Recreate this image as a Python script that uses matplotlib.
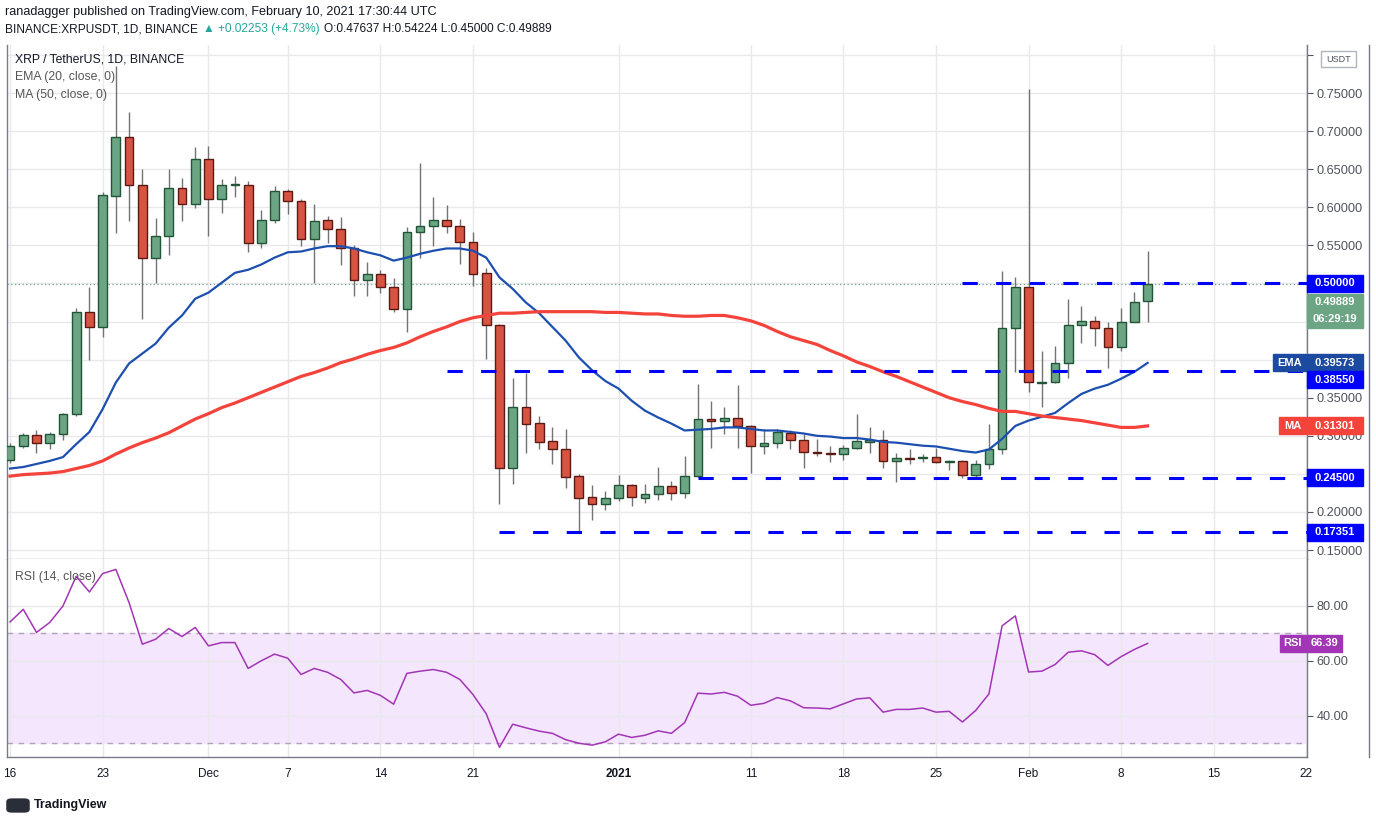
import numpy as np
import pandas as pd
import matplotlib.pyplot as plt
from matplotlib.patches import Rectangle, FancyBboxPatch
from matplotlib.lines import Line2D

plt.rcParams['font.family'] = ['Liberation Sans', 'DejaVu Sans']

# Daily candles XRP/USDT, Nov 16 2020 .. Feb 10 2021
dates = pd.date_range('2020-11-16', '2021-02-10', freq='D')

opens = [0.268, 0.286, 0.301, 0.291, 0.303, 0.329, 0.462, 0.443, 0.615, 0.693,
         0.630, 0.534, 0.562, 0.625, 0.605, 0.663, 0.611, 0.629, 0.630, 0.553,
         0.584, 0.621, 0.608, 0.558, 0.583, 0.572, 0.547, 0.505, 0.513, 0.496,
         0.467, 0.568, 0.576, 0.583, 0.576, 0.555, 0.514, 0.446, 0.258, 0.338,
         0.317, 0.293, 0.283, 0.247, 0.220, 0.211, 0.218, 0.236, 0.218, 0.224,
         0.234, 0.225, 0.247, 0.322, 0.320, 0.324, 0.313, 0.287, 0.291, 0.304,
         0.295, 0.279, 0.278, 0.276, 0.284, 0.292, 0.295, 0.267, 0.271, 0.271,
         0.272, 0.266, 0.267, 0.249, 0.263, 0.282, 0.442, 0.495, 0.369, 0.370,
         0.396, 0.445, 0.451, 0.442, 0.416, 0.450, 0.47637]
highs = [0.291, 0.304, 0.308, 0.305, 0.330, 0.468, 0.496, 0.620, 0.785, 0.725,
         0.651, 0.586, 0.650, 0.638, 0.679, 0.680, 0.637, 0.641, 0.634, 0.596,
         0.628, 0.624, 0.611, 0.605, 0.588, 0.587, 0.550, 0.528, 0.518, 0.507,
         0.574, 0.658, 0.613, 0.603, 0.585, 0.568, 0.521, 0.447, 0.376, 0.383,
         0.326, 0.311, 0.309, 0.250, 0.236, 0.228, 0.249, 0.237, 0.237, 0.259,
         0.241, 0.274, 0.368, 0.346, 0.338, 0.367, 0.314, 0.309, 0.309, 0.308,
         0.303, 0.296, 0.287, 0.288, 0.329, 0.311, 0.307, 0.278, 0.283, 0.276,
         0.284, 0.268, 0.268, 0.268, 0.316, 0.517, 0.509, 0.755, 0.411, 0.418,
         0.480, 0.471, 0.457, 0.450, 0.468, 0.489, 0.54224]
lows = [0.264, 0.284, 0.278, 0.282, 0.295, 0.326, 0.399, 0.430, 0.566, 0.582,
        0.454, 0.501, 0.537, 0.582, 0.599, 0.562, 0.592, 0.613, 0.541, 0.546,
        0.579, 0.591, 0.549, 0.501, 0.553, 0.524, 0.483, 0.483, 0.487, 0.462,
        0.436, 0.534, 0.549, 0.566, 0.526, 0.497, 0.401, 0.211, 0.237, 0.278,
        0.282, 0.263, 0.232, 0.1735, 0.190, 0.203, 0.214, 0.208, 0.212, 0.216,
        0.216, 0.218, 0.246, 0.284, 0.303, 0.284, 0.251, 0.276, 0.284, 0.282,
        0.258, 0.274, 0.266, 0.268, 0.282, 0.278, 0.258, 0.239, 0.263, 0.266,
        0.264, 0.255, 0.245, 0.245, 0.257, 0.276, 0.384, 0.357, 0.338, 0.369,
        0.376, 0.422, 0.418, 0.389, 0.411, 0.449, 0.450]
closes = [0.287, 0.301, 0.291, 0.302, 0.329, 0.462, 0.443, 0.616, 0.693, 0.630,
          0.534, 0.562, 0.625, 0.605, 0.664, 0.611, 0.629, 0.630, 0.553, 0.584,
          0.621, 0.608, 0.558, 0.582, 0.572, 0.547, 0.505, 0.513, 0.495, 0.467,
          0.568, 0.576, 0.583, 0.576, 0.555, 0.513, 0.446, 0.258, 0.338, 0.316,
          0.292, 0.283, 0.246, 0.218, 0.211, 0.218, 0.236, 0.220, 0.224, 0.234,
          0.225, 0.247, 0.322, 0.320, 0.324, 0.313, 0.287, 0.291, 0.305, 0.295,
          0.279, 0.278, 0.276, 0.284, 0.293, 0.295, 0.267, 0.271, 0.270, 0.272,
          0.266, 0.267, 0.249, 0.263, 0.282, 0.442, 0.495, 0.370, 0.370, 0.396,
          0.445, 0.451, 0.442, 0.416, 0.450, 0.476, 0.49889]

ema20 = [0.257, 0.259, 0.263, 0.267, 0.272, 0.289, 0.305, 0.335, 0.370, 0.395,
         0.408, 0.421, 0.442, 0.458, 0.480, 0.488, 0.501, 0.514, 0.518, 0.525,
         0.534, 0.541, 0.542, 0.546, 0.549, 0.549, 0.546, 0.541, 0.537, 0.530,
         0.534, 0.539, 0.543, 0.546, 0.546, 0.543, 0.534, 0.508, 0.493, 0.475,
         0.461, 0.443, 0.425, 0.403, 0.386, 0.372, 0.362, 0.346, 0.333, 0.324,
         0.316, 0.307, 0.308, 0.309, 0.311, 0.311, 0.309, 0.307, 0.307, 0.305,
         0.303, 0.300, 0.299, 0.297, 0.297, 0.295, 0.292, 0.291, 0.289, 0.287,
         0.286, 0.283, 0.280, 0.278, 0.282, 0.296, 0.313, 0.320, 0.325, 0.330,
         0.343, 0.355, 0.362, 0.367, 0.375, 0.384, 0.39573]
ma50 = [0.247, 0.249, 0.250, 0.251, 0.253, 0.257, 0.261, 0.267, 0.276, 0.284,
        0.291, 0.297, 0.304, 0.313, 0.322, 0.329, 0.337, 0.343, 0.350, 0.357,
        0.364, 0.371, 0.378, 0.383, 0.389, 0.396, 0.401, 0.407, 0.412, 0.416,
        0.422, 0.430, 0.437, 0.443, 0.450, 0.455, 0.458, 0.461, 0.461, 0.462,
        0.463, 0.463, 0.463, 0.463, 0.463, 0.462, 0.462, 0.461, 0.460, 0.460,
        0.458, 0.457, 0.457, 0.458, 0.458, 0.455, 0.451, 0.445, 0.437, 0.430,
        0.425, 0.420, 0.412, 0.405, 0.397, 0.391, 0.384, 0.378, 0.371, 0.364,
        0.357, 0.350, 0.345, 0.341, 0.336, 0.332, 0.332, 0.329, 0.326, 0.324,
        0.322, 0.320, 0.317, 0.314, 0.311, 0.311, 0.31301]
rsi14 = [74.2, 78.8, 70.4, 74.0, 80.0, 90.8, 85.1, 91.8, 93.3, 81.2,
         66.1, 67.9, 71.8, 68.9, 72.2, 65.5, 66.7, 66.7, 57.3, 60.1,
         62.5, 61.0, 55.1, 57.3, 55.9, 53.3, 48.4, 49.3, 47.5, 44.3,
         55.5, 56.3, 56.9, 55.9, 53.3, 47.8, 40.8, 28.6, 37.0, 35.7,
         34.5, 33.7, 31.4, 30.1, 29.4, 30.6, 33.4, 32.2, 33.0, 34.6,
         33.7, 37.6, 48.3, 48.0, 48.6, 47.2, 43.9, 44.6, 46.7, 45.5,
         43.0, 42.9, 42.6, 44.4, 46.2, 46.6, 41.4, 42.4, 42.4, 42.9,
         41.4, 41.7, 37.8, 42.0, 48.0, 72.8, 76.4, 56.0, 56.3, 58.7,
         63.2, 63.7, 62.3, 58.4, 61.6, 64.2, 66.39]

# horizontal levels drawn on the chart, and the day they start from
levels = [0.50, 0.3855, 0.245, 0.17351]
level_start = ['2021-01-27', '2020-12-19', '2021-01-07', '2020-12-23']

price_ticks = [0.15, 0.20, 0.25, 0.30, 0.35, 0.40, 0.45, 0.50, 0.55, 0.60, 0.65, 0.70, 0.75, 0.80]
# scale labels hidden under the price tags in the original
covered_ticks = [0.25, 0.40, 0.45, 0.50, 0.80]

tick_days = ['2020-11-16', '2020-11-23', '2020-12-01', '2020-12-07', '2020-12-14',
             '2020-12-21', '2021-01-01', '2021-01-11', '2021-01-18', '2021-01-25',
             '2021-02-01', '2021-02-08', '2021-02-15', '2021-02-22']
tick_text = ['16', '23', 'Dec', '7', '14', '21', '2021', '11', '18', '25',
             'Feb', '8', '15', '22']

W, H = 1376, 824
fig = plt.figure(figsize=(W / 100, H / 100), dpi=100, facecolor='white')

def box(px0, py0, px1, py1):
    return [px0 / W, 1 - py1 / H, (px1 - px0) / W, (py1 - py0) / H]

ax = fig.add_axes(box(7, 45, 1307, 559))
ax2 = fig.add_axes(box(7, 559, 1307, 757), sharex=ax)

x = np.arange(len(dates))
day0 = dates[0]
def day_index(d):
    return (pd.Timestamp(d) - day0).days

opens = np.array(opens); closes = np.array(closes)
up = closes >= opens
grid_c = '#e9e9ec'
text_c = '#131722'
axis_c = '#50535e'

# candles
ax.vlines(x, lows, highs, color='#737375', lw=1, zorder=2)
body = np.maximum(np.abs(closes - opens), 0.0012)
bottom = np.minimum(opens, closes)
ax.bar(x[up], body[up], bottom=bottom[up], width=0.66, color='#6ba583',
       edgecolor='#225437', linewidth=1, zorder=3)
ax.bar(x[~up], body[~up], bottom=bottom[~up], width=0.66, color='#d75442',
       edgecolor='#5b1a13', linewidth=1, zorder=3)

ax.plot(x, ema20, color='#1c4fb0', lw=1.6, zorder=4)
ax.plot(x, ma50, color='#f4433b', lw=2.3, zorder=4)

for lv, st in zip(levels, level_start):
    ax.plot([day_index(st), 110], [lv, lv], color='#0000ff', lw=2.2,
            dashes=(5, 6), zorder=5, solid_capstyle='butt', dash_capstyle='butt')
ax.axhline(closes[-1], color='#6ba583', lw=0.9, ls=(0, (1, 2)), zorder=1)

ax.set_ylim(0.1382, 0.8132)
ax.set_xlim(-0.23, 98.05)
ax.set_yticks(price_ticks)
ax.set_yticklabels(['' if any(abs(t - c) < 1e-9 for c in covered_ticks) else f'{t:.5f}'
                    for t in price_ticks])
ax.yaxis.tick_right()
ax.tick_params(axis='y', colors=axis_c, labelsize=9.2, length=4, pad=3, width=0.8)
ax.tick_params(axis='x', length=0, labelbottom=False)
ax.grid(True, color=grid_c, lw=1)
ax.set_axisbelow(True)

# RSI pane
ax2.axhspan(30, 70, color='#f4e6fd', zorder=0)
ax2.axhline(70, color='#b3a3b8', lw=1, ls=(0, (4, 4)))
ax2.axhline(30, color='#b3a3b8', lw=1, ls=(0, (4, 4)))
ax2.plot(x, rsi14, color='#a235b5', lw=1.1, zorder=4)
ax2.set_ylim(25.09, 97.09)
ax2.set_yticks([40, 60, 80])
ax2.yaxis.tick_right()
ax2.yaxis.set_major_formatter(plt.FuncFormatter(lambda v, p: f'{v:.2f}'))
ax2.tick_params(axis='y', colors=axis_c, labelsize=9.2, length=4, pad=3, width=0.8)
ax2.grid(True, color=grid_c, lw=1)
ax2.set_axisbelow(True)

ax2.set_xticks([day_index(d) for d in tick_days])
ax2.set_xticklabels(tick_text)
ax2.tick_params(axis='x', colors=text_c, labelsize=8.5, length=0, pad=8)
for lab in ax2.get_xticklabels():
    if lab.get_text() == '2021':
        lab.set_fontweight('bold')

for a in (ax, ax2):
    a.spines['top'].set_visible(False)
    for s in ('left', 'right', 'bottom'):
        a.spines[s].set_color('#787b86')
        a.spines[s].set_linewidth(1)
ax.spines['bottom'].set_color('#b2b5be')

# outer right border of the price scale
fig.add_artist(Line2D([1369 / W, 1369 / W], [1 - 757 / H, 1 - 45 / H], color='#787b86', lw=1))

fig.canvas.draw()
renderer = fig.canvas.get_renderer()

def tag(a, yval, text, color, x0=1307, x1=1363, shift=0, fs=8):
    ypix = a.transData.transform((0, yval))[1] - shift
    fig.add_artist(Rectangle((x0 / W, (ypix - 8.5) / H), (x1 - x0) / W, 17 / H,
                             transform=fig.transFigure, color=color, zorder=10))
    fig.text((x0 + x1) / 2 / W, ypix / H, text, color='white', ha='center',
             va='center', fontsize=fs, weight='bold', zorder=11)

tag(ax, 0.50, '0.50000', '#0000ff')
tag(ax, closes[-1], '0.49889', '#6ba583', shift=18)
tag(ax, closes[-1], '06:29:19', '#6ba583', shift=35)
tag(ax, ema20[-1], '0.39573', '#1c4aa0')
tag(ax, ema20[-1], 'EMA', '#1c4aa0', x0=1273, x1=1306)
tag(ax, 0.3855, '0.38550', '#0000ff', shift=9)
tag(ax, ma50[-1], '0.31301', '#f4433b')
tag(ax, ma50[-1], 'MA', '#f4433b', x0=1279, x1=1306)
tag(ax, 0.245, '0.24500', '#0000ff')
tag(ax, 0.17351, '0.17351', '#0000ff')
tag(ax2, rsi14[-1], '66.39', '#a235b5', x1=1342)
tag(ax2, rsi14[-1], 'RSI', '#a235b5', x0=1280, x1=1306)

# currency box at top of price scale
fig.add_artist(Rectangle((1321 / W, 1 - 67 / H), 35 / W, 16 / H, transform=fig.transFigure,
                         facecolor='white', edgecolor='#b2b5be', lw=1, zorder=10))
fig.text(1338.5 / W, 1 - 59 / H, 'USDT', ha='center', va='center', fontsize=6.5,
         color=axis_c, zorder=11)

# header
fig.text(5 / W, 1 - 12 / H, 'ranadagger published on TradingView.com, February 10, 2021 17:30:44 UTC',
         fontsize=9.1, color=text_c, va='center')
px = 5
for part, col in [('BINANCE:XRPUSDT, 1D, BINANCE', text_c),
                  ('\u25b2 +0.02253 (+4.73%)', '#26a69a'),
                  ('O:0.47637 H:0.54224 L:0.45000 C:0.49889', text_c)]:
    t = fig.text(px / W, 1 - 29 / H, part, fontsize=8.6, color=col, va='center')
    px += t.get_window_extent(renderer).width + 5

# pane legends
fig.text(15 / W, 1 - 60 / H, 'XRP / TetherUS, 1D, BINANCE', fontsize=8.8, color=text_c, va='center')
fig.text(15 / W, 1 - 77 / H, 'EMA (20, close, 0)', fontsize=8.8, color='#555555', va='center')
fig.text(15 / W, 1 - 95 / H, 'MA (50, close, 0)', fontsize=8.8, color='#555555', va='center')
fig.text(15 / W, 1 - 577 / H, 'RSI (14, close)', fontsize=8.8, color='#555555', va='center')

# footer logo
fig.add_artist(FancyBboxPatch((9 / W, 1 - 811 / H), 18 / W, 11 / H,
                              boxstyle='round,pad=0.002,rounding_size=0.004',
                              transform=fig.transFigure, facecolor='#2a2e39',
                              edgecolor='none', zorder=10))
fig.text(34 / W, 1 - 805 / H, 'TradingView', fontsize=9, color=text_c, va='center',
         weight='bold')

fig.savefig('out.png', dpi=100, facecolor='white')
